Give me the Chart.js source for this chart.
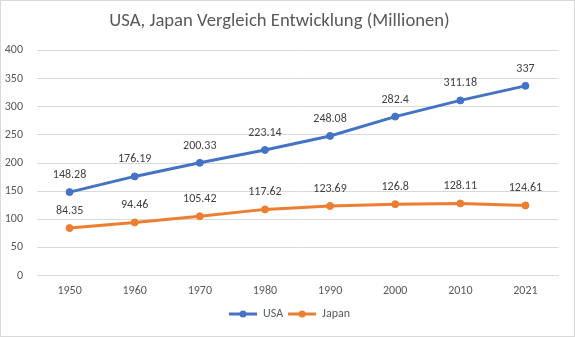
<!DOCTYPE html>
<html>
<head>
<meta charset="utf-8">
<script src="https://cdn.jsdelivr.net/npm/chart.js@4"></script>
<style>
  html, body { margin: 0; padding: 0; background: #fff; }
  #box { width: 573px; height: 335px; border: 1px solid #d9d9d9; }
</style>
</head>
<body>
<div id="box"><canvas id="visualChart" width="573" height="335"></canvas></div>
<script>
const years = ["1950", "1960", "1970", "1980", "1990", "2000", "2010", "2021"];
const usa = [148.28, 176.19, 200.33, 223.14, 248.08, 282.4, 311.18, 337];
const japan = [84.35, 94.46, 105.42, 117.62, 123.69, 126.8, 128.11, 124.61];
const yTicks = [0, 50, 100, 150, 200, 250, 300, 350, 400];

const font = "Carlito";

const legendIcon = (color) => {
  const c = document.createElement("canvas");
  c.width = 28;
  c.height = 10;
  const ctx = c.getContext("2d");
  ctx.strokeStyle = color;
  ctx.lineWidth = 3;
  ctx.beginPath();
  ctx.moveTo(0, 5);
  ctx.lineTo(28, 5);
  ctx.stroke();
  ctx.fillStyle = color;
  ctx.beginPath();
  ctx.arc(14, 5, 3.5, 0, Math.PI * 2);
  ctx.fill();
  return c;
};

// Excel style data labels above each point
const valueLabels = {
  id: "valueLabels",
  afterLayout(chart) {
    // legend is centred on the whole chart box, not on the plot area
    chart.legend.left += 10;
    chart.legend.right += 10;
  },
  afterDatasetsDraw(chart) {
    const ctx = chart.ctx;
    ctx.save();
    ctx.font = "12px " + font;
    ctx.fillStyle = "#404040";
    ctx.textAlign = "center";
    ctx.textBaseline = "middle";
    chart.data.datasets.forEach((ds, i) => {
      chart.getDatasetMeta(i).data.forEach((pt, j) => {
        ctx.fillText(String(ds.data[j]), pt.x, pt.y - 17);
      });
    });
    ctx.restore();
  },
};

const chartBlock = document.querySelector("#visualChart").getContext("2d");

const chart = new Chart(chartBlock, {
  type: "line",
  data: {
    labels: years,
    datasets: [
      {
        label: "USA",
        data: usa,
        borderColor: "#4472c4",
        backgroundColor: "#4472c4",
        borderWidth: 3,
        pointRadius: 3.5,
        pointBorderWidth: 1,
        pointHoverRadius: 3.5,
      },
      {
        label: "Japan",
        data: japan,
        borderColor: "#ed7d31",
        backgroundColor: "#ed7d31",
        borderWidth: 3,
        pointRadius: 3.5,
        pointBorderWidth: 1,
        pointHoverRadius: 3.5,
      },
    ],
  },
  options: {
    responsive: false,
    animation: false,
    layout: { padding: { left: 0, right: 16, top: 0, bottom: 6 } },
    plugins: {
      title: {
        display: true,
        text: "USA, Japan Vergleich Entwicklung (Millionen)",
        color: "#595959",
        font: { family: font, size: 18.67, weight: "normal" },
        padding: { top: 9, bottom: 18 },
      },
      legend: {
        position: "bottom",
        labels: {
          color: "#595959",
          font: { family: font, size: 12 },
          usePointStyle: true,
          pointStyleWidth: 28,
          boxHeight: 10,
          padding: 5,
          generateLabels(chart) {
            return chart.data.datasets.map((ds, i) => ({
              text: ds.label,
              fontColor: "#595959",
              pointStyle: legendIcon(ds.borderColor),
              datasetIndex: i,
              lineWidth: 0,
            }));
          },
        },
      },
      tooltip: { enabled: false },
    },
    scales: {
      x: {
        offset: true,
        afterFit(scale) {
          scale.height -= 3;
        },
        grid: { display: false, drawTicks: false },
        border: { color: "#d9d9d9" },
        ticks: { color: "#595959", font: { family: font, size: 12 }, padding: 8 },
      },
      y: {
        min: 0,
        max: 400,
        afterBuildTicks(scale) {
          scale.ticks = yTicks.map((v) => ({ value: v }));
        },
        afterFit(scale) {
          scale.width = 36;
        },
        grid: { color: "#d9d9d9", drawTicks: false },
        border: { display: false },
        ticks: { color: "#595959", font: { family: font, size: 12 }, padding: 14 },
      },
    },
  },
  plugins: [valueLabels],
});
</script>
</body>
</html>
